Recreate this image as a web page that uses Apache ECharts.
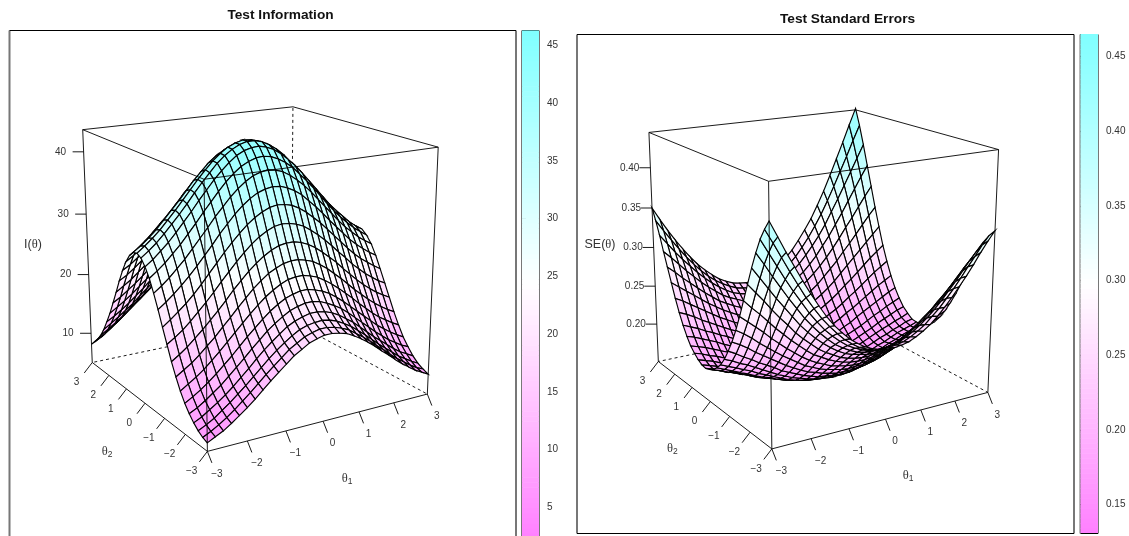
<!DOCTYPE html>
<html><head><meta charset="utf-8"><style>html,body{margin:0;padding:0;background:#fff;overflow:hidden}#c{width:1129px;height:536px}</style>
<script src="https://cdn.jsdelivr.net/npm/echarts@6/dist/echarts.min.js"></script></head><body><div id="c"></div>
<script>
const theta=[-3,-2.8,-2.6,-2.4,-2.2,-2,-1.8,-1.6,-1.4,-1.2,-1,-.8,-.6,-.4,-.2,0,.2,.4,.6,.8,1,1.2,1.4,1.6,1.8,2,2.2,2.4,2.6,2.8,3];
// rows: theta1, columns: theta2
const infoZ=[
[6.2,6.5,7.0,7.7,8.6,9.7,11.1,12.8,14.7,16.9,19.1,21.4,23.5,25.4,26.8,27.8,28.2,28.0,27.2,25.9,24.2,22.2,20.0,17.9,15.8,14.0,12.3,10.9,9.8,8.9,8.1],
[6.8,7.1,7.6,8.3,9.2,10.4,11.9,13.6,15.5,17.7,20.0,22.3,24.4,26.3,27.7,28.7,29.1,28.8,28.0,26.7,24.9,22.9,20.8,18.6,16.6,14.7,13.1,11.7,10.5,9.6,8.9],
[7.4,7.8,8.3,9.1,10.0,11.2,12.7,14.4,16.4,18.6,21.0,23.3,25.4,27.3,28.8,29.7,30.1,29.8,29.0,27.6,25.8,23.8,21.6,19.5,17.4,15.5,13.9,12.5,11.4,10.5,9.8],
[8.2,8.6,9.2,9.9,10.9,12.1,13.6,15.4,17.5,19.7,22.0,24.4,26.6,28.5,29.9,30.9,31.2,30.9,30.1,28.7,26.9,24.8,22.6,20.4,18.3,16.4,14.8,13.4,12.3,11.4,10.8],
[9.1,9.5,10.1,10.8,11.8,13.1,14.7,16.5,18.6,20.9,23.2,25.6,27.8,29.7,31.2,32.2,32.5,32.2,31.3,29.8,28.0,25.9,23.6,21.4,19.3,17.4,15.7,14.4,13.3,12.4,11.8],
[10.0,10.5,11.1,11.8,12.9,14.2,15.8,17.6,19.8,22.1,24.5,26.9,29.2,31.1,32.6,33.5,33.8,33.5,32.5,31.0,29.2,27.0,24.7,22.5,20.3,18.4,16.8,15.4,14.3,13.4,12.8],
[11.0,11.5,12.1,12.9,14.0,15.3,17.0,18.9,21.0,23.4,25.9,28.3,30.6,32.5,34.0,34.9,35.2,34.8,33.8,32.3,30.4,28.2,25.9,23.6,21.4,19.5,17.8,16.4,15.3,14.5,13.8],
[12.1,12.6,13.2,14.0,15.1,16.5,18.2,20.1,22.3,24.8,27.3,29.7,32.0,34.0,35.5,36.4,36.6,36.2,35.2,33.6,31.6,29.4,27.0,24.7,22.5,20.5,18.8,17.4,16.3,15.5,14.8],
[13.2,13.7,14.3,15.2,16.3,17.7,19.4,21.4,23.7,26.1,28.7,31.2,33.5,35.4,36.9,37.8,38.0,37.6,36.5,34.8,32.8,30.5,28.1,25.7,23.5,21.5,19.8,18.4,17.3,16.4,15.8],
[14.2,14.7,15.4,16.3,17.4,18.8,20.6,22.6,24.9,27.4,30.0,32.5,34.8,36.8,38.3,39.1,39.3,38.8,37.7,36.0,33.9,31.5,29.1,26.7,24.4,22.4,20.7,19.3,18.1,17.3,16.6],
[15.2,15.7,16.4,17.3,18.5,19.9,21.7,23.8,26.1,28.6,31.2,33.8,36.1,38.1,39.5,40.4,40.5,40.0,38.8,37.0,34.9,32.5,30.0,27.5,25.2,23.2,21.4,20.0,18.9,18.0,17.4],
[16.2,16.7,17.3,18.2,19.4,20.9,22.7,24.8,27.1,29.7,32.3,34.9,37.2,39.2,40.6,41.4,41.5,40.9,39.7,37.9,35.7,33.2,30.7,28.2,25.9,23.8,22.0,20.6,19.4,18.6,17.9],
[16.9,17.4,18.1,19.1,20.2,21.7,23.5,25.7,28.0,30.6,33.2,35.8,38.1,40.1,41.5,42.2,42.3,41.6,40.3,38.5,36.2,33.7,31.2,28.6,26.3,24.2,22.4,21.0,19.8,18.9,18.3],
[17.6,18.1,18.8,19.7,20.9,22.4,24.2,26.3,28.7,31.3,33.9,36.5,38.8,40.7,42.1,42.8,42.8,42.1,40.8,38.9,36.6,34.0,31.4,28.9,26.5,24.4,22.6,21.2,20.0,19.1,18.5],
[18.0,18.5,19.2,20.1,21.3,22.8,24.7,26.8,29.2,31.8,34.4,36.9,39.2,41.1,42.4,43.1,43.1,42.3,40.9,39.0,36.6,34.1,31.4,28.9,26.5,24.4,22.6,21.1,20.0,19.1,18.4],
[18.3,18.8,19.4,20.4,21.6,23.1,24.9,27.0,29.4,32.0,34.6,37.1,39.4,41.2,42.5,43.1,43.0,42.2,40.8,38.8,36.4,33.8,31.2,28.6,26.2,24.1,22.3,20.9,19.7,18.8,18.1],
[18.3,18.8,19.5,20.4,21.6,23.1,24.9,27.0,29.4,31.9,34.5,37.0,39.2,41.0,42.2,42.8,42.7,41.8,40.3,38.3,35.9,33.3,30.7,28.1,25.7,23.6,21.9,20.4,19.2,18.3,17.6],
[18.1,18.6,19.3,20.2,21.4,22.8,24.6,26.7,29.1,31.6,34.2,36.6,38.8,40.5,41.7,42.2,42.0,41.2,39.6,37.6,35.2,32.6,30.0,27.4,25.0,22.9,21.2,19.7,18.5,17.6,17.0],
[17.8,18.2,18.9,19.8,20.9,22.4,24.2,26.3,28.6,31.1,33.6,36.0,38.1,39.8,40.9,41.4,41.2,40.2,38.7,36.7,34.3,31.7,29.0,26.5,24.1,22.1,20.3,18.8,17.7,16.8,16.1],
[17.2,17.7,18.3,19.2,20.3,21.8,23.5,25.6,27.9,30.3,32.8,35.2,37.2,38.9,39.9,40.4,40.1,39.1,37.6,35.5,33.1,30.5,27.9,25.4,23.1,21.0,19.3,17.9,16.7,15.8,15.1],
[16.5,16.9,17.6,18.4,19.6,21.0,22.7,24.8,27.0,29.4,31.8,34.1,36.2,37.7,38.8,39.1,38.8,37.8,36.3,34.2,31.8,29.3,26.7,24.2,21.9,19.9,18.2,16.8,15.6,14.8,14.1],
[15.7,16.1,16.7,17.6,18.7,20.1,21.8,23.8,26.0,28.4,30.8,33.0,35.0,36.5,37.5,37.8,37.4,36.4,34.9,32.8,30.4,27.9,25.3,22.9,20.6,18.7,17.0,15.6,14.5,13.6,13.0],
[14.8,15.2,15.8,16.6,17.7,19.1,20.8,22.8,25.0,27.3,29.6,31.8,33.7,35.2,36.1,36.4,36.0,35.0,33.4,31.4,29.0,26.5,24.0,21.6,19.4,17.4,15.8,14.4,13.3,12.5,11.8],
[13.8,14.2,14.8,15.6,16.7,18.1,19.8,21.7,23.8,26.1,28.4,30.5,32.4,33.8,34.7,34.9,34.5,33.5,31.9,29.9,27.6,25.1,22.6,20.2,18.1,16.2,14.6,13.2,12.1,11.4,10.7],
[12.9,13.3,13.8,14.6,15.7,17.1,18.7,20.6,22.7,25.0,27.2,29.3,31.1,32.4,33.3,33.5,33.1,32.0,30.5,28.5,26.2,23.7,21.3,19.0,16.8,15.0,13.4,12.1,11.1,10.3,9.7],
[11.9,12.3,12.9,13.7,14.7,16.1,17.7,19.6,21.6,23.8,26.0,28.1,29.8,31.1,31.9,32.1,31.7,30.6,29.1,27.1,24.8,22.4,20.0,17.7,15.7,13.8,12.3,11.0,10.0,9.2,8.6],
[11.0,11.4,12.0,12.8,13.8,15.1,16.7,18.6,20.6,22.8,24.9,26.9,28.6,29.9,30.7,30.9,30.4,29.3,27.8,25.8,23.6,21.2,18.9,16.6,14.6,12.8,11.3,10.1,9.1,8.3,7.7],
[10.2,10.6,11.1,11.9,12.9,14.3,15.8,17.7,19.7,21.8,23.9,25.9,27.6,28.8,29.6,29.7,29.2,28.2,26.6,24.6,22.4,20.1,17.8,15.6,13.6,11.9,10.4,9.2,8.2,7.5,6.9],
[9.4,9.8,10.4,11.1,12.2,13.5,15.1,16.9,18.9,21.0,23.1,25.0,26.6,27.8,28.5,28.7,28.2,27.1,25.5,23.6,21.4,19.1,16.8,14.7,12.7,11.0,9.6,8.4,7.5,6.7,6.2],
[8.8,9.1,9.7,10.5,11.5,12.8,14.4,16.2,18.2,20.2,22.3,24.2,25.8,27.0,27.6,27.7,27.2,26.2,24.6,22.7,20.5,18.3,16.0,13.9,12.0,10.3,8.9,7.7,6.8,6.1,5.6],
[8.2,8.6,9.1,9.9,11.0,12.2,13.8,15.6,17.6,19.6,21.6,23.5,25.1,26.2,26.9,27.0,26.4,25.4,23.8,21.9,19.8,17.5,15.3,13.2,11.3,9.6,8.3,7.1,6.3,5.6,5.0]];
const seZ=[
[.402,.391,.378,.361,.342,.321,.300,.279,.260,.243,.229,.216,.206,.199,.193,.190,.188,.189,.192,.197,.203,.212,.223,.236,.251,.268,.285,.302,.320,.336,.350],
[.384,.375,.362,.347,.329,.310,.290,.271,.254,.238,.224,.212,.202,.195,.190,.187,.185,.186,.189,.194,.200,.209,.219,.232,.246,.261,.277,.293,.308,.322,.334],
[.366,.358,.346,.332,.316,.299,.281,.263,.247,.232,.218,.207,.198,.191,.186,.183,.182,.183,.186,.190,.197,.205,.215,.227,.240,.254,.268,.283,.296,.309,.319],
[.349,.341,.330,.318,.303,.287,.271,.255,.239,.225,.213,.203,.194,.187,.183,.180,.179,.180,.182,.187,.193,.201,.210,.221,.234,.247,.260,.273,.285,.296,.305],
[.332,.325,.315,.304,.291,.276,.261,.246,.232,.219,.207,.198,.190,.183,.179,.176,.175,.176,.179,.183,.189,.197,.206,.216,.228,.240,.252,.264,.275,.284,.292],
[.316,.309,.301,.291,.279,.266,.252,.238,.225,.213,.202,.193,.185,.179,.175,.173,.172,.173,.175,.179,.185,.192,.201,.211,.222,.233,.244,.255,.265,.273,.280],
[.301,.295,.287,.278,.267,.255,.243,.230,.218,.207,.197,.188,.181,.175,.171,.169,.169,.169,.172,.176,.181,.188,.197,.206,.216,.227,.237,.247,.256,.263,.269],
[.287,.282,.275,.267,.257,.246,.235,.223,.212,.201,.191,.183,.177,.172,.168,.166,.165,.166,.169,.173,.178,.185,.192,.201,.211,.221,.230,.240,.248,.254,.260],
[.275,.271,.264,.257,.248,.238,.227,.216,.206,.196,.187,.179,.173,.168,.165,.163,.162,.163,.166,.169,.175,.181,.189,.197,.206,.216,.225,.233,.241,.247,.252],
[.265,.261,.255,.248,.240,.230,.220,.210,.200,.191,.183,.175,.169,.165,.162,.160,.159,.161,.163,.167,.172,.178,.185,.194,.202,.211,.220,.228,.235,.241,.245],
[.256,.252,.247,.240,.233,.224,.215,.205,.196,.187,.179,.172,.166,.162,.159,.157,.157,.158,.161,.164,.169,.176,.183,.191,.199,.208,.216,.224,.230,.236,.240],
[.249,.245,.240,.234,.227,.219,.210,.201,.192,.184,.176,.169,.164,.160,.157,.155,.155,.156,.159,.163,.167,.174,.181,.188,.197,.205,.213,.220,.227,.232,.236],
[.243,.239,.235,.229,.222,.214,.206,.197,.189,.181,.173,.167,.162,.158,.155,.154,.154,.155,.157,.161,.166,.172,.179,.187,.195,.203,.211,.218,.225,.230,.234],
[.239,.235,.231,.225,.219,.211,.203,.195,.187,.179,.172,.166,.161,.157,.154,.153,.153,.154,.157,.160,.165,.171,.178,.186,.194,.202,.210,.217,.224,.229,.233],
[.236,.232,.228,.223,.217,.209,.201,.193,.185,.177,.171,.165,.160,.156,.154,.152,.152,.154,.156,.160,.165,.171,.178,.186,.194,.202,.210,.218,.224,.229,.233],
[.234,.231,.227,.222,.215,.208,.200,.192,.184,.177,.170,.164,.159,.156,.153,.152,.152,.154,.157,.161,.166,.172,.179,.187,.195,.204,.212,.219,.225,.231,.235],
[.234,.231,.227,.222,.215,.208,.200,.192,.185,.177,.170,.164,.160,.156,.154,.153,.153,.155,.157,.162,.167,.173,.181,.189,.197,.206,.214,.222,.228,.234,.238],
[.235,.232,.228,.223,.216,.209,.201,.193,.185,.178,.171,.165,.161,.157,.155,.154,.154,.156,.159,.163,.169,.175,.183,.191,.200,.209,.217,.225,.232,.238,.243],
[.237,.234,.230,.225,.219,.211,.203,.195,.187,.179,.173,.167,.162,.158,.156,.155,.156,.158,.161,.165,.171,.178,.186,.194,.204,.213,.222,.230,.238,.244,.249],
[.241,.238,.234,.228,.222,.214,.206,.198,.189,.182,.175,.169,.164,.160,.158,.157,.158,.160,.163,.168,.174,.181,.189,.198,.208,.218,.228,.237,.245,.251,.257],
[.246,.243,.239,.233,.226,.218,.210,.201,.192,.184,.177,.171,.166,.163,.161,.160,.160,.163,.166,.171,.177,.185,.194,.203,.214,.224,.235,.244,.253,.260,.266],
[.252,.249,.245,.239,.231,.223,.214,.205,.196,.188,.180,.174,.169,.166,.163,.163,.163,.166,.169,.175,.181,.189,.199,.209,.220,.231,.243,.253,.263,.271,.278],
[.260,.257,.252,.245,.238,.229,.219,.210,.200,.191,.184,.177,.172,.169,.166,.166,.167,.169,.173,.179,.186,.194,.204,.215,.227,.240,.252,.263,.274,.283,.291],
[.269,.265,.260,.253,.245,.235,.225,.215,.205,.196,.188,.181,.176,.172,.170,.169,.170,.173,.177,.183,.190,.200,.210,.222,.235,.249,.262,.275,.286,.297,.305],
[.279,.275,.269,.261,.252,.242,.231,.220,.210,.200,.192,.185,.179,.176,.173,.173,.174,.177,.181,.187,.196,.205,.217,.230,.244,.258,.273,.287,.300,.312,.322],
[.290,.285,.279,.270,.261,.249,.238,.226,.215,.205,.196,.189,.183,.179,.177,.176,.178,.181,.185,.192,.201,.211,.223,.237,.253,.269,.285,.301,.316,.329,.340],
[.301,.296,.289,.280,.269,.257,.244,.232,.220,.209,.200,.193,.187,.183,.180,.180,.181,.185,.190,.197,.206,.217,.230,.245,.262,.279,.298,.315,.332,.347,.360],
[.313,.308,.300,.290,.278,.265,.251,.238,.225,.214,.204,.197,.190,.186,.184,.184,.185,.188,.194,.201,.211,.223,.237,.253,.271,.290,.310,.330,.349,.366,.381],
[.326,.319,.311,.300,.287,.272,.258,.243,.230,.218,.208,.200,.194,.190,.187,.187,.188,.192,.198,.206,.216,.229,.244,.261,.280,.301,.323,.345,.366,.385,.402],
[.338,.331,.321,.309,.295,.279,.264,.249,.235,.222,.212,.203,.197,.193,.190,.190,.192,.195,.202,.210,.221,.234,.250,.268,.289,.312,.336,.360,.383,.405,.424],
[.349,.341,.331,.317,.302,.286,.269,.253,.239,.226,.215,.206,.200,.195,.193,.193,.194,.199,.205,.214,.225,.239,.256,.275,.298,.322,.348,.374,.400,.424,.445]];
const axisTicks=[-3,-2,-1,0,1,2,3];
const infoZTicks=[10,20,30,40];
const seZTicks=[.2,.25,.3,.35,.4];
const infoBarTicks=[5,10,15,20,25,30,35,40,45];
const seBarTicks=[.15,.2,.25,.3,.35,.4,.45];
const infoBarRange=[2.33,46.3];
const seBarRange=[.131,.4652];
const camL=[0.5445,-1.2717,0.2006,0.9986,1250.9264,254.5341,261.4873,4.9128,43.4857];
const camR=[0.5457,-1.2713,0.2004,0.9992,1231.1009,817.9581,262.0786,0.1498,0.4431];

function proj(c,t1,t2,z){const [rz,rx,d,az,s,tx,ty,zlo,zhi]=c;const x=t1/6,y=t2/6,zz=((z-zlo)/(zhi-zlo)-.5)*az;
 const cz=Math.cos(rz),sz=Math.sin(rz),cx=Math.cos(rx),sx=Math.sin(rx);
 const x1=x*cz-y*sz,y1=x*sz+y*cz;const y2=y1*cx-zz*sx,z2=y1*sx+zz*cx;const f=1/(1/d-z2);return [tx+s*x1*f,ty-s*y2*f,z2];}
const mix=(a,b,t)=>Math.round(a+(b-a)*t);
function colorAt(v,lo,hi){const k=Math.min(99,Math.max(0,Math.floor((v-lo)/(hi-lo)*100)));const t=(k+.5)/100;
 if(t<.5){const g=mix(128,255,t/.5);return `rgb(255,${g},255)`}const r=mix(255,128,(t-.5)/.5);return `rgb(${r},255,255)`;}
const series=[],grids=[],xA=[],yA=[];
function panel(Z,cam,px,bar,zTicks,zFmt,zOff){
 const gi=grids.length;grids.push({left:px[0],top:px[2],width:px[1]-px[0],height:px[3]-px[2]});
 xA.push({type:'value',gridIndex:gi,min:px[0],max:px[1],show:false});
 yA.push({type:'value',gridIndex:gi,min:px[2],max:px[3],inverse:true,show:false});
 const lo=cam[7],hi=cam[8];const cells=[];
 for(let i=0;i<30;i++)for(let j=0;j<30;j++){const q=[[i,j],[i+1,j],[i+1,j+1],[i,j+1]].map(([a,b])=>[theta[a],theta[b],Z[a][b]]);
  const m=q.reduce((s,p)=>s+p[2],0)/4;const d=q.reduce((s,p)=>s+proj(cam,p[0],p[1],p[2])[2],0)/4;cells.push({q,m,d});}
 cells.sort((a,b)=>a.d-b.d);
 const seg=(dash,list,z)=>series.push({type:'custom',xAxisIndex:gi,yAxisIndex:gi,z,silent:true,animation:false,clip:false,data:list.map((s,i)=>[i,i]),
  renderItem(p,api){const s=list[p.dataIndex];const a=proj(cam,s[0],s[1],s[2]),b=s.length>4?proj(cam,s[3],s[4],s[5]):a;const A=api.coord([a[0],a[1]]);
   const Bb=s.length>4?api.coord([b[0],b[1]]):[A[0]+s[3][0],A[1]+s[3][1]];
   return {type:'line',shape:{x1:A[0],y1:A[1],x2:Bb[0],y2:Bb[1]},style:{stroke:'#000',lineWidth:.9,lineDash:dash?[3,3]:null}};}});
 seg(true,[[3,3,lo,-3,3,lo],[3,3,lo,3,-3,lo],[3,3,lo,3,3,hi]],2);
 series.push({type:'custom',xAxisIndex:gi,yAxisIndex:gi,z:3,silent:true,animation:false,clip:false,progressive:0,data:cells.map((c,i)=>[i,i]),
  renderItem(p,api){const c=cells[p.dataIndex];const pts=c.q.map(r=>{const w=proj(cam,r[0],r[1],r[2]);return api.coord([w[0],w[1]])});
   return {type:'polygon',shape:{points:pts},style:{fill:colorAt(c.m,bar[0],bar[1]),stroke:'#000',lineWidth:1.15}};}});
 const sol=[[-3,-3,lo,3,-3,lo],[-3,-3,lo,-3,3,lo],[-3,-3,lo,-3,-3,hi],[-3,3,lo,-3,3,hi],[3,-3,lo,3,-3,hi],[-3,-3,hi,3,-3,hi],[-3,-3,hi,-3,3,hi],[3,3,hi,3,-3,hi],[3,3,hi,-3,3,hi]];
 axisTicks.forEach(t=>{sol.push([t,-3,lo,[4.5,11.5]]);sol.push([-3,t,lo,[-8,10.5]]);});
 zTicks.forEach(t=>sol.push([-3,3,t,[-11,0]]));
 seg(false,sol,4);
 const labs=[];axisTicks.forEach(t=>{const s=(t<0?'\u2212'+(-t):''+t);labs.push([t,-3,lo,9.5,22.5,s]);labs.push([-3,t,lo,-15.7,20,s]);});
 zTicks.forEach(t=>labs.push([-3,3,t,zOff,0,zFmt(t)]));
 series.push({type:'custom',xAxisIndex:gi,yAxisIndex:gi,z:5,silent:true,animation:false,clip:false,data:labs.map((s,i)=>[i,i]),
  renderItem(p,api){const s=labs[p.dataIndex];const a=proj(cam,s[0],s[1],s[2]);const A=api.coord([a[0],a[1]]);
   return {type:'text',style:{x:A[0]+s[3],y:A[1]+s[4],text:s[5],fill:'#333',font:'10px "Liberation Sans"',textAlign:'center',textVerticalAlign:'middle'}};}});
}
function barPanel(x0,x1,top,bottom,axisMin,range,ticks,fmt){
 const lo=range[0],hi=range[1];
 const gi=grids.length;grids.push({left:x0,top,width:x1-x0,height:bottom-top});
 xA.push({type:'value',gridIndex:gi,min:0,max:1,show:false});
 yA.push({type:'value',gridIndex:gi,min:axisMin,max:hi,position:'right',axisLine:{show:false},splitLine:{show:false},
  axisTick:{show:true,length:4,lineStyle:{color:'#000',width:.8},customValues:ticks},axisLabel:{show:true,margin:8,color:'#333',fontSize:10,fontFamily:'Liberation Sans',formatter:fmt,customValues:ticks}});
 const bands=[];for(let k=0;k<100;k++)bands.push(k);
 series.push({type:'custom',xAxisIndex:gi,yAxisIndex:gi,z:3,silent:true,animation:false,clip:true,data:bands.map(b=>[0,lo+(hi-lo)*b/100]),
  renderItem(p,api){const k=p.dataIndex;const a=api.coord([0,lo+(hi-lo)*k/100]),b=api.coord([1,lo+(hi-lo)*(k+1)/100]);
   return {type:'rect',shape:{x:a[0],y:b[1],width:b[0]-a[0],height:a[1]-b[1]+.5},style:{fill:colorAt(lo+(hi-lo)*(k+.5)/100,lo,hi)}};}});
}
panel(infoZ,camL,[9,516,30,536],infoBarRange,infoZTicks,v=>''+v,-23);
barPanel(522,539,30.3,536,2.515,infoBarRange,infoBarTicks,v=>''+v);
panel(seZ,camR,[577,1074,34,533],seBarRange,seZTicks,v=>v.toFixed(2),-20.7);
barPanel(1080.5,1098,34,533,seBarRange[0],seBarRange,seBarTicks,v=>v.toFixed(2));
const frame=(x0,x1,y0,y1,b)=>{const g=[{type:'line',shape:{x1:x0,y1:y0,x2:x0,y2:y1},style:{stroke:'#777',lineWidth:2}},{type:'line',shape:{x1:x1,y1:y0,x2:x1,y2:y1},style:{stroke:'#777',lineWidth:2}},{type:'line',shape:{x1:x0,y1:y0,x2:x1,y2:y0},style:{stroke:'#000',lineWidth:1}}];if(b)g.push({type:'line',shape:{x1:x0,y1:y1,x2:x1,y2:y1},style:{stroke:'#000',lineWidth:1}});return g;};
const sym=(x,y,txt)=>({type:'text',x,y,style:{text:txt,fill:'#333',align:'center',verticalAlign:'middle',rich:{a:{font:'12.5px "Liberation Sans"',fill:'#333'},t:{font:'12.5px "Liberation Serif"',fill:'#333'},s:{font:'8.5px "Liberation Sans"',fill:'#333',verticalAlign:'bottom',padding:[5,0,0,0]}}}});
const graphic=[...frame(9.5,516,30.5,560,false),...frame(522,539,30.5,560,false),...frame(577,1074,34.5,533.5,true),...frame(1080.5,1098,34.5,533.5,true),
 sym(347,479,'{t|\u03b8}{s|1}'),sym(107,452,'{t|\u03b8}{s|2}'),sym(908,476,'{t|\u03b8}{s|1}'),sym(672.3,449,'{t|\u03b8}{s|2}'),sym(33,245,'{a|I(}{t|\u03b8}{a|)}'),sym(600,245,'{a|SE(}{t|\u03b8}{a|)}')];
const chart=echarts.init(document.getElementById('c'),null,{renderer:'canvas'});
chart.setOption({animation:false,grid:grids,xAxis:xA,yAxis:yA,series,graphic:{elements:graphic},
 title:[{text:'Test Information',left:275.5,top:3,textAlign:'center',textStyle:{fontFamily:'Liberation Sans',fontWeight:'bold',fontSize:13.7,color:'#111'}},{text:'Test Standard Errors',left:842.5,top:7,textAlign:'center',textStyle:{fontFamily:'Liberation Sans',fontWeight:'bold',fontSize:13.7,color:'#111'}}]});
</script></body></html>
